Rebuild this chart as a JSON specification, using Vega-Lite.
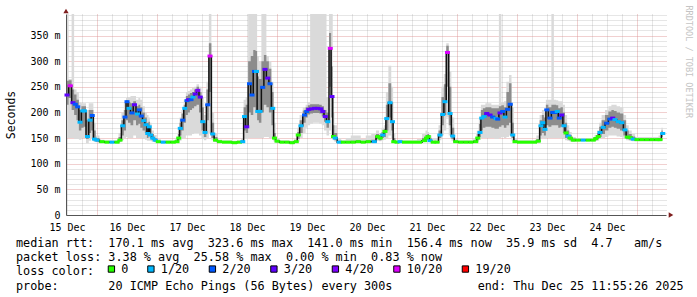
{
 "$schema": "https://vega.github.io/schema/vega-lite/v6.json",
 "width": 600, "height": 201,
 "autosize": {"type": "none"},
 "padding": {"left": 66, "top": 14, "right": 31, "bottom": 82},
 "background": "white",
 "config": {"view": {"stroke": null}, "font": "DejaVu Sans Mono"},
 "data": {"values": [
{"h":12,"m":234,"L":"3/20","lo":150,"hi":392,"a":215,"b":262},
{"h":13.3,"m":252,"L":"10/20","lo":150,"hi":265,"a":228,"b":263},
{"h":14.4,"m":219,"L":"3/20","lo":150,"hi":392,"a":205,"b":245},
{"h":15.3,"m":216,"L":"2/20","lo":148,"hi":245,"a":195,"b":235},
{"h":16.3,"m":211,"L":"2/20","lo":148,"hi":240,"a":185,"b":225},
{"h":17.2,"m":181,"L":"1/20","lo":147,"hi":220,"a":165,"b":205},
{"h":18.3,"m":203,"L":"1/20","lo":150,"hi":218,"a":170,"b":212},
{"h":19.0,"m":203,"L":"1/20","lo":150,"hi":218,"a":172,"b":212},
{"h":20.2,"m":153,"L":"1/20","lo":140,"hi":205,"a":148,"b":185},
{"h":21.2,"m":185,"L":"1/20","lo":145,"hi":218,"a":160,"b":205},
{"h":22.1,"m":194,"L":"2/20","lo":150,"hi":218,"a":165,"b":205},
{"h":23.0,"m":148,"L":"1/20","lo":143,"hi":180,"a":145,"b":165},
{"h":24.0,"m":146,"L":"1/20","lo":142,"hi":155,"a":143,"b":150},
{"h":26,"m":143,"L":"0","lo":141,"hi":147,"a":142,"b":145},
{"h":28,"m":142,"L":"0","lo":141,"hi":146,"a":141.5,"b":144},
{"h":30,"m":142,"L":"1/20","lo":141,"hi":146,"a":141.5,"b":144},
{"h":32,"m":142,"L":"0","lo":141,"hi":146,"a":141.5,"b":144},
{"h":33.2,"m":146,"L":"0","lo":142,"hi":160,"a":144,"b":152},
{"h":34.3,"m":174,"L":"1/20","lo":146,"hi":200,"a":155,"b":185},
{"h":35.2,"m":191,"L":"2/20","lo":150,"hi":220,"a":165,"b":205},
{"h":36.0,"m":221,"L":"2/20","lo":152,"hi":228,"a":185,"b":224},
{"h":36.8,"m":208,"L":"1/20","lo":150,"hi":230,"a":180,"b":220},
{"h":38.0,"m":199,"L":"2/20","lo":150,"hi":232,"a":175,"b":218},
{"h":39.0,"m":215,"L":"3/20","lo":155,"hi":232,"a":185,"b":222},
{"h":40.2,"m":197,"L":"1/20","lo":150,"hi":225,"a":175,"b":212},
{"h":40.9,"m":205,"L":"2/20","lo":150,"hi":228,"a":178,"b":215},
{"h":41.7,"m":193,"L":"2/20","lo":150,"hi":225,"a":170,"b":210},
{"h":42.7,"m":184,"L":"1/20","lo":148,"hi":212,"a":165,"b":200},
{"h":43.6,"m":176,"L":"1/20","lo":147,"hi":200,"a":160,"b":190},
{"h":44.3,"m":159,"L":"1/20","lo":145,"hi":195,"a":150,"b":180},
{"h":44.9,"m":172,"L":"1/20","lo":145,"hi":190,"a":155,"b":182},
{"h":45.4,"m":156,"L":"1/20","lo":145,"hi":180,"a":150,"b":170},
{"h":46.3,"m":150,"L":"1/20","lo":143,"hi":165,"a":146,"b":158},
{"h":47.3,"m":146,"L":"1/20","lo":142,"hi":156,"a":143,"b":150},
{"h":48.5,"m":143,"L":"0","lo":141,"hi":148,"a":142,"b":145},
{"h":50.5,"m":142,"L":"1/20","lo":141,"hi":146,"a":141.5,"b":144},
{"h":52.5,"m":142,"L":"0","lo":141,"hi":146,"a":141.5,"b":144},
{"h":54.5,"m":142,"L":"0","lo":141,"hi":146,"a":141.5,"b":144},
{"h":56.0,"m":143,"L":"0","lo":141,"hi":150,"a":142,"b":146},
{"h":56.7,"m":150,"L":"0","lo":143,"hi":165,"a":146,"b":158},
{"h":57.3,"m":169,"L":"1/20","lo":145,"hi":190,"a":155,"b":180},
{"h":58.3,"m":185,"L":"2/20","lo":148,"hi":205,"a":165,"b":198},
{"h":59.1,"m":208,"L":"1/20","lo":150,"hi":225,"a":180,"b":215},
{"h":60.0,"m":223,"L":"2/20","lo":155,"hi":240,"a":195,"b":232},
{"h":60.7,"m":225,"L":"3/20","lo":155,"hi":242,"a":200,"b":235},
{"h":61.6,"m":225,"L":"2/20","lo":155,"hi":245,"a":205,"b":238},
{"h":62.4,"m":230,"L":"1/20","lo":158,"hi":248,"a":208,"b":240},
{"h":63.3,"m":236,"L":"3/20","lo":160,"hi":250,"a":212,"b":245},
{"h":64.3,"m":243,"L":"4/20","lo":160,"hi":255,"a":215,"b":250},
{"h":65.3,"m":230,"L":"3/20","lo":155,"hi":250,"a":200,"b":240},
{"h":66.3,"m":182,"L":"1/20","lo":148,"hi":230,"a":165,"b":210},
{"h":67.2,"m":161,"L":"1/20","lo":146,"hi":195,"a":152,"b":180},
{"h":68.3,"m":215,"L":"2/20","lo":150,"hi":260,"a":185,"b":245},
{"h":69.2,"m":310,"L":"10/20","lo":160,"hi":392,"a":240,"b":335},
{"h":70.3,"m":158,"L":"1/20","lo":146,"hi":200,"a":150,"b":180},
{"h":71.4,"m":146,"L":"0","lo":143,"hi":160,"a":144,"b":152},
{"h":73,"m":143,"L":"0","lo":141,"hi":147,"a":142,"b":145},
{"h":75,"m":142,"L":"0","lo":141,"hi":146,"a":141.5,"b":144},
{"h":77,"m":142,"L":"0","lo":141,"hi":146,"a":141.5,"b":144},
{"h":79,"m":141,"L":"0","lo":140,"hi":145,"a":140.5,"b":143},
{"h":81,"m":142,"L":"0","lo":141,"hi":146,"a":141.5,"b":144},
{"h":82.3,"m":143,"L":"1/20","lo":141,"hi":150,"a":142,"b":146},
{"h":83.0,"m":192,"L":"1/20","lo":148,"hi":225,"a":165,"b":210},
{"h":83.9,"m":172,"L":"3/20","lo":148,"hi":230,"a":160,"b":215},
{"h":85.0,"m":256,"L":"2/20","lo":150,"hi":392,"a":200,"b":300},
{"h":86.0,"m":234,"L":"2/20","lo":150,"hi":392,"a":195,"b":310},
{"h":87.0,"m":280,"L":"2/20","lo":150,"hi":392,"a":210,"b":322},
{"h":87.8,"m":280,"L":"1/20","lo":150,"hi":392,"a":205,"b":320},
{"h":88.3,"m":202,"L":"1/20","lo":150,"hi":310,"a":185,"b":270},
{"h":89.2,"m":202,"L":"1/20","lo":150,"hi":300,"a":180,"b":265},
{"h":90.3,"m":249,"L":"2/20","lo":150,"hi":392,"a":200,"b":300},
{"h":91.2,"m":284,"L":"3/20","lo":152,"hi":392,"a":215,"b":312},
{"h":92.3,"m":267,"L":"3/20","lo":152,"hi":310,"a":210,"b":300},
{"h":93.2,"m":256,"L":"2/20","lo":150,"hi":300,"a":200,"b":285},
{"h":94.3,"m":208,"L":"1/20","lo":148,"hi":260,"a":175,"b":240},
{"h":95.0,"m":150,"L":"0","lo":143,"hi":180,"a":146,"b":160},
{"h":96,"m":144,"L":"0","lo":141,"hi":150,"a":142,"b":146},
{"h":98,"m":142,"L":"0","lo":141,"hi":146,"a":141.5,"b":144},
{"h":100,"m":142,"L":"0","lo":141,"hi":146,"a":141.5,"b":144},
{"h":102,"m":141,"L":"0","lo":140,"hi":145,"a":140.5,"b":143},
{"h":103.7,"m":143,"L":"0","lo":141,"hi":148,"a":142,"b":145},
{"h":104.5,"m":156,"L":"0","lo":143,"hi":170,"a":148,"b":162},
{"h":105.6,"m":174,"L":"1/20","lo":150,"hi":195,"a":160,"b":185},
{"h":107.0,"m":195,"L":"2/20","lo":160,"hi":210,"a":180,"b":204},
{"h":107.9,"m":202,"L":"2/20","lo":170,"hi":215,"a":190,"b":210},
{"h":108.7,"m":206,"L":"3/20","lo":175,"hi":220,"a":196,"b":214},
{"h":109.8,"m":207,"L":"3/20","lo":178,"hi":392,"a":198,"b":216},
{"h":111,"m":208,"L":"3/20","lo":180,"hi":392,"a":199,"b":216},
{"h":112.3,"m":208,"L":"3/20","lo":180,"hi":392,"a":199,"b":216},
{"h":113.5,"m":207,"L":"3/20","lo":178,"hi":392,"a":198,"b":215},
{"h":114.3,"m":202,"L":"3/20","lo":175,"hi":392,"a":192,"b":212},
{"h":115.3,"m":192,"L":"3/20","lo":165,"hi":392,"a":182,"b":205},
{"h":116.3,"m":182,"L":"1/20","lo":155,"hi":230,"a":170,"b":200},
{"h":117.3,"m":325,"L":"10/20","lo":165,"hi":392,"a":250,"b":355},
{"h":118.0,"m":231,"L":"3/20","lo":155,"hi":392,"a":190,"b":290},
{"h":118.6,"m":153,"L":"0","lo":146,"hi":200,"a":148,"b":175},
{"h":119.3,"m":150,"L":"1/20","lo":143,"hi":175,"a":146,"b":160},
{"h":120.9,"m":142,"L":"1/20","lo":140,"hi":150,"a":141,"b":145},
{"h":122.5,"m":142,"L":"0","lo":141,"hi":146,"a":141.5,"b":144},
{"h":124.5,"m":142,"L":"0","lo":141,"hi":150,"a":141.5,"b":144},
{"h":126.5,"m":142,"L":"0","lo":141,"hi":155,"a":141.5,"b":145},
{"h":128.5,"m":143,"L":"0","lo":141,"hi":155,"a":142,"b":146},
{"h":130.5,"m":142,"L":"0","lo":141,"hi":148,"a":141.5,"b":144},
{"h":132.5,"m":143,"L":"0","lo":141,"hi":155,"a":142,"b":146},
{"h":134.9,"m":143,"L":"1/20","lo":141,"hi":158,"a":142,"b":147},
{"h":136.3,"m":153,"L":"0","lo":145,"hi":165,"a":148,"b":158},
{"h":137.3,"m":150,"L":"0","lo":144,"hi":160,"a":146,"b":155},
{"h":138.3,"m":156,"L":"1/20","lo":146,"hi":170,"a":150,"b":162},
{"h":139.2,"m":163,"L":"0","lo":147,"hi":175,"a":152,"b":168},
{"h":139.9,"m":188,"L":"1/20","lo":150,"hi":240,"a":165,"b":215},
{"h":141.2,"m":219,"L":"1/20","lo":155,"hi":291,"a":190,"b":257},
{"h":142.2,"m":182,"L":"1/20","lo":150,"hi":250,"a":165,"b":220},
{"h":142.7,"m":143,"L":"0","lo":141,"hi":160,"a":142,"b":150},
{"h":144,"m":142,"L":"0","lo":141,"hi":146,"a":141.5,"b":144},
{"h":145.2,"m":143,"L":"1/20","lo":141,"hi":147,"a":142,"b":145},
{"h":147,"m":142,"L":"0","lo":141,"hi":146,"a":141.5,"b":144},
{"h":149,"m":142,"L":"0","lo":141,"hi":146,"a":141.5,"b":144},
{"h":151,"m":142,"L":"0","lo":141,"hi":146,"a":141.5,"b":144},
{"h":153,"m":142,"L":"0","lo":141,"hi":148,"a":141.5,"b":144},
{"h":155,"m":145,"L":"0","lo":142,"hi":158,"a":143,"b":150},
{"h":155.8,"m":150,"L":"0","lo":143,"hi":165,"a":146,"b":156},
{"h":156.5,"m":153,"L":"0","lo":144,"hi":162,"a":147,"b":158},
{"h":157.2,"m":145,"L":"1/20","lo":142,"hi":155,"a":143,"b":150},
{"h":158.5,"m":142,"L":"0","lo":141,"hi":150,"a":141.5,"b":144},
{"h":160,"m":142,"L":"0","lo":141,"hi":150,"a":141.5,"b":144},
{"h":161.2,"m":156,"L":"1/20","lo":146,"hi":175,"a":150,"b":165},
{"h":162.3,"m":196,"L":"1/20","lo":155,"hi":250,"a":175,"b":230},
{"h":163.2,"m":221,"L":"1/20","lo":165,"hi":275,"a":195,"b":255},
{"h":164.2,"m":317,"L":"10/20","lo":190,"hi":335,"a":250,"b":330},
{"h":165.2,"m":198,"L":"1/20","lo":155,"hi":280,"a":175,"b":250},
{"h":166.3,"m":154,"L":"1/20","lo":145,"hi":190,"a":148,"b":170},
{"h":167.5,"m":143,"L":"0","lo":141,"hi":148,"a":142,"b":145},
{"h":169.5,"m":142,"L":"0","lo":141,"hi":146,"a":141.5,"b":144},
{"h":171.5,"m":142,"L":"0","lo":141,"hi":146,"a":141.5,"b":144},
{"h":173.5,"m":142,"L":"0","lo":141,"hi":146,"a":141.5,"b":144},
{"h":175.5,"m":143,"L":"0","lo":141,"hi":150,"a":142,"b":146},
{"h":176.3,"m":150,"L":"0","lo":143,"hi":165,"a":146,"b":158},
{"h":177.2,"m":161,"L":"1/20","lo":147,"hi":190,"a":152,"b":178},
{"h":177.9,"m":189,"L":"1/20","lo":150,"hi":215,"a":165,"b":205},
{"h":178.8,"m":192,"L":"1/20","lo":150,"hi":215,"a":170,"b":208},
{"h":179.9,"m":198,"L":"3/20","lo":150,"hi":218,"a":172,"b":210},
{"h":181.2,"m":195,"L":"3/20","lo":150,"hi":218,"a":172,"b":210},
{"h":182.3,"m":191,"L":"2/20","lo":150,"hi":215,"a":170,"b":208},
{"h":183.6,"m":188,"L":"1/20","lo":148,"hi":215,"a":168,"b":208},
{"h":184.3,"m":187,"L":"2/20","lo":148,"hi":215,"a":168,"b":208},
{"h":185.2,"m":199,"L":"3/20","lo":150,"hi":392,"a":172,"b":212},
{"h":186.3,"m":202,"L":"2/20","lo":152,"hi":220,"a":175,"b":214},
{"h":187.2,"m":191,"L":"1/20","lo":150,"hi":222,"a":170,"b":210},
{"h":188.3,"m":206,"L":"2/20","lo":152,"hi":260,"a":175,"b":240},
{"h":189.3,"m":216,"L":"2/20","lo":155,"hi":273,"a":180,"b":257},
{"h":190.3,"m":156,"L":"1/20","lo":145,"hi":210,"a":150,"b":180},
{"h":191.2,"m":143,"L":"0","lo":141,"hi":150,"a":142,"b":146},
{"h":193,"m":142,"L":"0","lo":141,"hi":146,"a":141.5,"b":144},
{"h":195,"m":142,"L":"0","lo":141,"hi":146,"a":141.5,"b":144},
{"h":197,"m":142,"L":"0","lo":141,"hi":146,"a":141.5,"b":144},
{"h":199,"m":142,"L":"0","lo":141,"hi":146,"a":141.5,"b":144},
{"h":200.5,"m":144,"L":"0","lo":141,"hi":155,"a":142,"b":148},
{"h":201.6,"m":174,"L":"1/20","lo":148,"hi":195,"a":155,"b":185},
{"h":202.3,"m":180,"L":"1/20","lo":150,"hi":205,"a":160,"b":195},
{"h":203.2,"m":167,"L":"1/20","lo":148,"hi":200,"a":155,"b":190},
{"h":203.9,"m":205,"L":"2/20","lo":150,"hi":225,"a":175,"b":215},
{"h":205.2,"m":189,"L":"2/20","lo":150,"hi":225,"a":172,"b":210},
{"h":206.3,"m":200,"L":"2/20","lo":150,"hi":392,"a":175,"b":215},
{"h":207.2,"m":200,"L":"2/20","lo":150,"hi":225,"a":175,"b":215},
{"h":208.1,"m":202,"L":"1/20","lo":150,"hi":224,"a":175,"b":214},
{"h":208.9,"m":189,"L":"2/20","lo":150,"hi":222,"a":170,"b":208},
{"h":209.9,"m":195,"L":"3/20","lo":150,"hi":222,"a":172,"b":210},
{"h":210.8,"m":174,"L":"1/20","lo":148,"hi":215,"a":160,"b":200},
{"h":211.6,"m":160,"L":"0","lo":146,"hi":195,"a":150,"b":180},
{"h":212.5,"m":154,"L":"1/20","lo":145,"hi":175,"a":148,"b":165},
{"h":213.3,"m":150,"L":"0","lo":144,"hi":162,"a":146,"b":156},
{"h":214.5,"m":146,"L":"0","lo":143,"hi":152,"a":144,"b":149},
{"h":216.5,"m":146,"L":"0","lo":144,"hi":150,"a":145,"b":148},
{"h":218.5,"m":146,"L":"1/20","lo":144,"hi":150,"a":145,"b":148},
{"h":220.5,"m":146,"L":"0","lo":144,"hi":150,"a":145,"b":148},
{"h":222.5,"m":146,"L":"0","lo":144,"hi":150,"a":145,"b":148},
{"h":223.5,"m":149,"L":"0","lo":145,"hi":156,"a":146,"b":152},
{"h":224.5,"m":153,"L":"0","lo":145,"hi":165,"a":148,"b":160},
{"h":225.2,"m":161,"L":"1/20","lo":148,"hi":180,"a":152,"b":172},
{"h":226.5,"m":171,"L":"1/20","lo":150,"hi":195,"a":158,"b":185},
{"h":227.9,"m":179,"L":"2/20","lo":152,"hi":205,"a":165,"b":195},
{"h":229.2,"m":187,"L":"2/20","lo":155,"hi":212,"a":170,"b":202},
{"h":230.3,"m":189,"L":"3/20","lo":155,"hi":215,"a":172,"b":205},
{"h":231.2,"m":186,"L":"1/20","lo":155,"hi":215,"a":170,"b":203},
{"h":232.5,"m":182,"L":"1/20","lo":153,"hi":212,"a":168,"b":200},
{"h":233.9,"m":180,"L":"1/20","lo":152,"hi":210,"a":165,"b":198},
{"h":235.2,"m":166,"L":"1/20","lo":148,"hi":195,"a":155,"b":185},
{"h":236.1,"m":152,"L":"0","lo":146,"hi":175,"a":148,"b":165},
{"h":237.3,"m":151,"L":"0","lo":145,"hi":165,"a":147,"b":158},
{"h":238.5,"m":148,"L":"1/20","lo":144,"hi":158,"a":146,"b":153},
{"h":240,"m":147,"L":"0","lo":144,"hi":152,"a":145,"b":149},
{"h":242,"m":147,"L":"0","lo":144,"hi":152,"a":145,"b":149},
{"h":244,"m":147,"L":"0","lo":144,"hi":152,"a":145,"b":149},
{"h":246,"m":147,"L":"0","lo":144,"hi":152,"a":145,"b":149},
{"h":248,"m":147,"L":"0","lo":144,"hi":152,"a":145,"b":149},
{"h":249.2,"m":147,"L":"0","lo":144,"hi":155,"a":145,"b":150},
{"h":250.3,"m":159,"L":"1/20","lo":147,"hi":170,"a":152,"b":165}
 ]},
 "title": {
  "text": [
   "median\u00a0rtt:\u00a0\u00a0170.1\u00a0ms\u00a0avg\u00a0\u00a0323.6\u00a0ms\u00a0max\u00a0\u00a0141.0\u00a0ms\u00a0min\u00a0\u00a0156.4\u00a0ms\u00a0now\u00a0\u00a035.9\u00a0ms\u00a0sd\u00a0\u00a04.7\u00a0\u00a0\u00a0am/s",
   "packet\u00a0loss:\u00a03.38\u00a0%\u00a0avg\u00a0\u00a025.58\u00a0%\u00a0max\u00a0\u00a00.00\u00a0%\u00a0min\u00a0\u00a00.83\u00a0%\u00a0now",
   "loss\u00a0color:",
   "probe:\u00a0\u00a0\u00a0\u00a0\u00a0\u00a0\u00a020\u00a0ICMP\u00a0Echo\u00a0Pings\u00a0(56\u00a0Bytes)\u00a0every\u00a0300s\u00a0\u00a0\u00a0\u00a0\u00a0\u00a0\u00a0\u00a0\u00a0\u00a0\u00a0\u00a0end:\u00a0Thu\u00a0Dec\u00a025\u00a011:55:26\u00a02025"
  ],
  "orient": "bottom", "anchor": "start", "frame": "group", "dx": -50, "offset": -38.5,
  "font": "DejaVu Sans Mono", "fontSize": 11.8, "fontWeight": "normal", "color": "#000000",
  "lineHeight": 14.4, "baseline": "top"
 },
 "layer": [
  {
   "mark": {"type": "area", "interpolate": "step", "color": "#dadada"},
   "encoding": {
    "x": {"field": "h", "type": "quantitative", "scale": {"domain": [11.6, 251.6]},
      "axis": {"orient": "top", "values": [12,18,30,36,42,54,60,66,78,84,90,102,108,114,126,132,138,150,156,162,174,180,186,198,204,210,222,228,234,246],
        "grid": true, "gridColor": "#8f8f8f", "gridOpacity": 0.45, "gridDash": [1,1], "labels": false, "ticks": false, "domain": false, "title": null}},
    "y": {"field": "lo", "type": "quantitative", "scale": {"domain": [0, 392]},
      "axis": {"orient": "right", "values": [10,20,30,40,60,70,80,90,110,120,130,140,160,170,180,190,210,220,230,240,260,270,280,290,310,320,330,340,360,370,380,390],
        "grid": true, "gridColor": "#8f8f8f", "gridOpacity": 0.45, "gridDash": [1,1], "labels": false, "ticks": false, "domain": false,
        "title": "RRDTOOL / TOBI OETIKER", "titleAngle": 90, "titleFont": "DejaVu Sans Mono", "titleFontSize": 8.5, "titleFontWeight": "normal",
        "titleColor": "#c4c4c4", "titleX": 22, "titleY": -9, "titleAlign": "left", "titleBaseline": "middle"}},
    "y2": {"field": "hi"}
   }
  },
  {
   "mark": {"type": "area", "interpolate": "step", "color": "#8c8c8c"},
   "encoding": {
    "x": {"field": "h", "type": "quantitative", "scale": {"domain": [11.6, 251.6]},
      "axis": {"orient": "top", "values": [24,48,72,96,120,144,168,192,216,240],
        "grid": true, "gridColor": "#de8f8f", "gridOpacity": 0.85, "gridDash": [1,1], "labels": false, "ticks": false, "domain": false, "title": null}},
    "y": {"field": "a", "type": "quantitative", "scale": {"domain": [0, 392]},
      "axis": {"orient": "right", "values": [50,100,150,200,250,300,350],
        "grid": true, "gridColor": "#de8f8f", "gridOpacity": 0.85, "gridDash": [1,1], "labels": false, "ticks": false, "domain": false, "title": null}},
    "y2": {"field": "b"}
   }
  },
  {
   "mark": {"type": "line", "interpolate": "step", "color": "#111111", "strokeWidth": 1.5},
   "encoding": {
    "x": {"field": "h", "type": "quantitative", "scale": {"domain": [11.6, 251.6]},
      "axis": {"orient": "bottom", "values": [12,36,60,84,108,132,156,180,204,228],
        "labelExpr": "(floor(datum.value/24)+15) + ' Dec'", "grid": false, "ticks": false,
        "domain": true, "domainColor": "#555555", "domainWidth": 1,
        "labelFont": "DejaVu Sans Mono", "labelFontSize": 10, "labelColor": "#000000", "labelPadding": 7, "title": null}},
    "y": {"field": "m", "type": "quantitative", "scale": {"domain": [0, 392]},
      "axis": {"orient": "left", "values": [0,50,100,150,200,250,300,350],
        "labelExpr": "datum.value == 0 ? '0' : datum.value + ' m'", "grid": false, "ticks": false,
        "domain": true, "domainColor": "#555555", "domainWidth": 1,
        "labelFont": "DejaVu Sans Mono", "labelFontSize": 10, "labelColor": "#000000", "labelPadding": 6,
        "title": "Seconds", "titleFont": "DejaVu Sans Mono", "titleFontSize": 11.5, "titleFontWeight": "normal",
        "titleColor": "#000000", "titlePadding": 13}}
   }
  },
  {
   "mark": {"type": "tick", "orient": "horizontal", "size": 5, "thickness": 3, "opacity": 1},
   "encoding": {
    "x": {"field": "h", "type": "quantitative", "scale": {"domain": [11.6, 251.6]}, "axis": null},
    "y": {"field": "m", "type": "quantitative", "scale": {"domain": [0, 392]}, "axis": null},
    "color": {"field": "L", "type": "nominal",
      "scale": {"domain": ["0","1/20","2/20","3/20","4/20","10/20","19/20"],
                "range": ["#26ff00","#00b8ff","#0059ff","#5e00ff","#7e00ff","#dd00ff","#ff0000"]},
      "legend": {"orient": "none", "legendX": 39.5, "legendY": 249, "direction": "horizontal", "title": null,
        "symbolType": "square", "symbolSize": 40, "symbolOpacity": 1,
        "labelFont": "DejaVu Sans Mono", "labelFontSize": 11.8, "labelColor": "#000000", "labelOffset": 4,
        "columnPadding": 16.5, "padding": 0,
        "encode": {"symbols": {"update": {"stroke": {"value": "#000000"}, "strokeWidth": {"value": 1}, "fill": {"scale": "color", "field": "value"}}}}}}
   }
  },
  {
   "data": {"values": [{}]},
   "mark": {"type": "point", "shape": "triangle-up", "filled": true, "size": 28, "color": "#7f1f1f", "opacity": 1},
   "encoding": {
    "x": {"datum": 11.6, "type": "quantitative", "scale": {"domain": [11.6, 251.6]}, "axis": null},
    "y": {"datum": 398, "type": "quantitative", "scale": {"domain": [0, 392]}, "axis": null}
   }
  },
  {
   "data": {"values": [{}]},
   "mark": {"type": "point", "shape": "triangle-right", "filled": true, "size": 28, "color": "#7f1f1f", "opacity": 1},
   "encoding": {
    "x": {"datum": 253.6, "type": "quantitative", "scale": {"domain": [11.6, 251.6]}, "axis": null},
    "y": {"datum": 0, "type": "quantitative", "scale": {"domain": [0, 392]}, "axis": null}
   }
  }
 ],
 "resolve": {"axis": {"x": "independent", "y": "independent"}}
}
